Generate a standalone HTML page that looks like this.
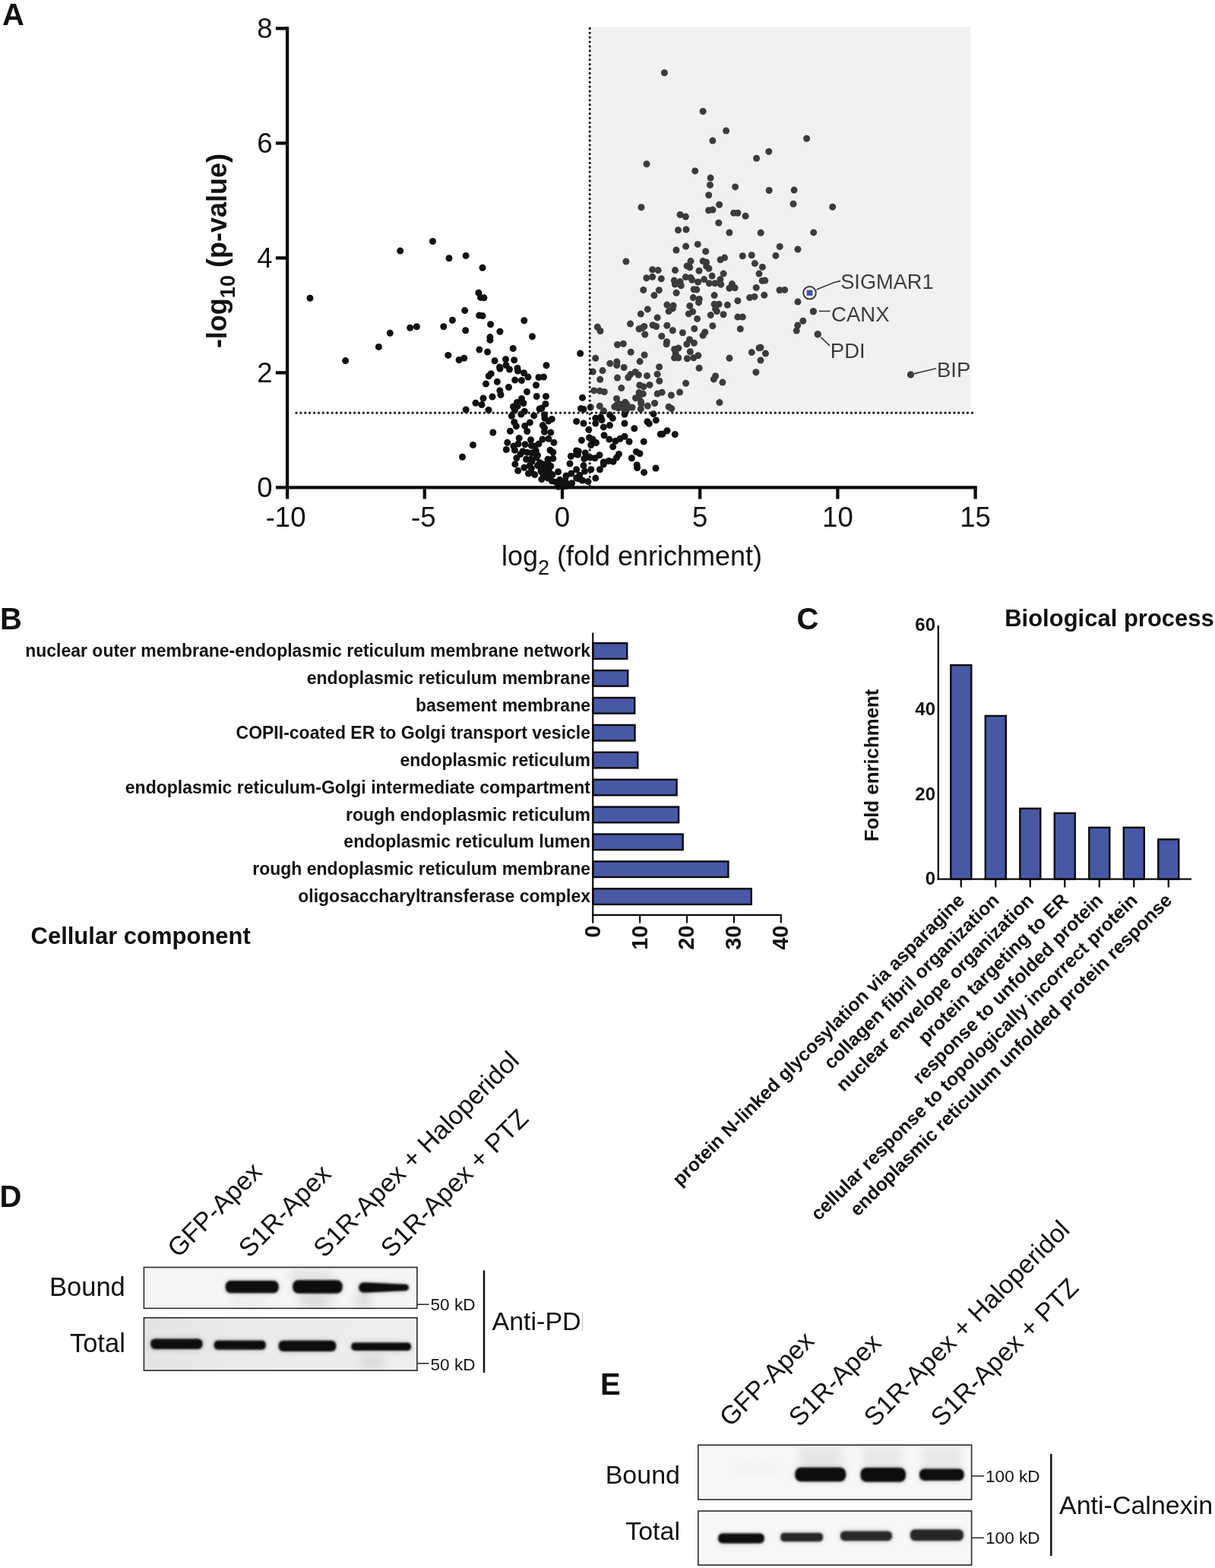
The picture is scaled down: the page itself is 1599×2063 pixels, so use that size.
<!DOCTYPE html>
<html><head><meta charset="utf-8"><title>Figure</title>
<style>html,body{margin:0;padding:0;background:#fff;} svg{display:block;}</style>
</head><body>
<svg width="1599" height="2063" viewBox="0 0 1599 2063" font-family="'Liberation Sans', Arial, Helvetica, sans-serif">
<rect x="0" y="0" width="1599" height="2063" fill="#fff"/>
<defs><filter id="soft" x="-20%" y="-100%" width="140%" height="300%"><feGaussianBlur stdDeviation="0.9"/></filter><filter id="halo" x="-30%" y="-200%" width="160%" height="500%"><feGaussianBlur stdDeviation="3.5"/></filter><filter id="smudge" x="-50%" y="-50%" width="200%" height="200%"><feGaussianBlur stdDeviation="6"/></filter><linearGradient id="gTotD" x1="0" y1="0" x2="1" y2="0"><stop offset="0" stop-color="#e4e4e4"/><stop offset="0.45" stop-color="#ececec"/><stop offset="1" stop-color="#eeeeee"/></linearGradient><clipPath id="cDb"><rect x="189.4" y="1667.4" width="359.5" height="54"/></clipPath><clipPath id="cDt"><rect x="189.4" y="1733.8" width="359.5" height="69.4"/></clipPath><clipPath id="cEb"><rect x="918.8" y="1901.2" width="359.8" height="71.8"/></clipPath></defs>
<text x="3" y="33" font-size="40" font-weight="bold" fill="#111">A</text>
<g fill="#111"><circle cx="569.5" cy="317.5" r="4.5"/><circle cx="526.7" cy="330.1" r="4.5"/><circle cx="591.0" cy="339.7" r="4.5"/><circle cx="613.1" cy="336.4" r="4.5"/><circle cx="635.0" cy="352.2" r="4.5"/><circle cx="408.0" cy="392.3" r="4.5"/><circle cx="629.9" cy="385.3" r="4.5"/><circle cx="632.5" cy="391.4" r="4.5"/><circle cx="636.9" cy="391.8" r="4.5"/><circle cx="611.7" cy="408.6" r="4.5"/><circle cx="630.7" cy="415.0" r="4.5"/><circle cx="635.1" cy="415.6" r="4.5"/><circle cx="595.4" cy="421.3" r="4.5"/><circle cx="645.6" cy="426.8" r="4.5"/><circle cx="583.8" cy="429.7" r="4.5"/><circle cx="548.4" cy="429.7" r="4.5"/><circle cx="539.7" cy="431.3" r="4.5"/><circle cx="513.3" cy="438.2" r="4.5"/><circle cx="612.7" cy="434.7" r="4.5"/><circle cx="657.9" cy="436.2" r="4.5"/><circle cx="644.9" cy="443.6" r="4.5"/><circle cx="644.9" cy="447.4" r="4.5"/><circle cx="498.4" cy="456.4" r="4.5"/><circle cx="630.9" cy="460.0" r="4.5"/><circle cx="641.6" cy="463.0" r="4.5"/><circle cx="589.8" cy="467.4" r="4.5"/><circle cx="610.8" cy="471.2" r="4.5"/><circle cx="604.1" cy="473.5" r="4.5"/><circle cx="454.6" cy="474.6" r="4.5"/><circle cx="651.1" cy="474.8" r="4.5"/><circle cx="657.5" cy="483.0" r="4.5"/><circle cx="646.2" cy="491.7" r="4.5"/><circle cx="643.2" cy="494.7" r="4.5"/><circle cx="874.4" cy="95.8" r="4.5"/><circle cx="925.1" cy="146.5" r="4.5"/><circle cx="955.6" cy="172.1" r="4.5"/><circle cx="937.9" cy="185.1" r="4.5"/><circle cx="1011.8" cy="199.4" r="4.5"/><circle cx="995.6" cy="208.2" r="4.5"/><circle cx="851.0" cy="215.7" r="4.5"/><circle cx="914.7" cy="224.9" r="4.5"/><circle cx="935.1" cy="234.1" r="4.5"/><circle cx="934.5" cy="243.4" r="4.5"/><circle cx="967.6" cy="245.9" r="4.5"/><circle cx="1012.2" cy="250.5" r="4.5"/><circle cx="1061.6" cy="182.2" r="4.5"/><circle cx="1045.1" cy="250.1" r="4.5"/><circle cx="1044.0" cy="268.2" r="4.5"/><circle cx="1095.7" cy="272.2" r="4.5"/><circle cx="932.7" cy="256.8" r="4.5"/><circle cx="844.0" cy="272.7" r="4.5"/><circle cx="946.6" cy="269.3" r="4.5"/><circle cx="932.6" cy="276.8" r="4.5"/><circle cx="937.9" cy="276.0" r="4.5"/><circle cx="895.1" cy="282.5" r="4.5"/><circle cx="902.3" cy="285.0" r="4.5"/><circle cx="965.6" cy="280.2" r="4.5"/><circle cx="970.9" cy="280.2" r="4.5"/><circle cx="981.1" cy="284.3" r="4.5"/><circle cx="945.8" cy="293.3" r="4.5"/><circle cx="892.5" cy="302.7" r="4.5"/><circle cx="903.0" cy="302.0" r="4.5"/><circle cx="959.9" cy="306.0" r="4.5"/><circle cx="1001.2" cy="306.3" r="4.5"/><circle cx="918.3" cy="321.4" r="4.5"/><circle cx="902.6" cy="324.1" r="4.5"/><circle cx="890.0" cy="329.0" r="4.5"/><circle cx="928.7" cy="330.8" r="4.5"/><circle cx="977.3" cy="336.8" r="4.5"/><circle cx="989.2" cy="335.8" r="4.5"/><circle cx="953.6" cy="339.1" r="4.5"/><circle cx="948.1" cy="341.8" r="4.5"/><circle cx="823.9" cy="344.0" r="4.5"/><circle cx="909.0" cy="343.6" r="4.5"/><circle cx="925.1" cy="343.6" r="4.5"/><circle cx="929.6" cy="345.1" r="4.5"/><circle cx="993.4" cy="346.6" r="4.5"/><circle cx="1003.4" cy="351.4" r="4.5"/><circle cx="904.1" cy="349.9" r="4.5"/><circle cx="907.8" cy="351.8" r="4.5"/><circle cx="929.6" cy="350.3" r="4.5"/><circle cx="932.9" cy="353.3" r="4.5"/><circle cx="858.6" cy="354.8" r="4.5"/><circle cx="866.1" cy="355.6" r="4.5"/><circle cx="888.5" cy="355.6" r="4.5"/><circle cx="920.0" cy="356.3" r="4.5"/><circle cx="952.1" cy="360.1" r="4.5"/><circle cx="999.0" cy="360.1" r="4.5"/><circle cx="937.1" cy="363.1" r="4.5"/><circle cx="858.6" cy="364.3" r="4.5"/><circle cx="850.8" cy="365.8" r="4.5"/><circle cx="870.3" cy="366.8" r="4.5"/><circle cx="902.3" cy="364.6" r="4.5"/><circle cx="909.0" cy="365.3" r="4.5"/><circle cx="910.8" cy="368.3" r="4.5"/><circle cx="926.6" cy="367.6" r="4.5"/><circle cx="947.9" cy="367.6" r="4.5"/><circle cx="887.3" cy="369.1" r="4.5"/><circle cx="895.1" cy="370.6" r="4.5"/><circle cx="918.6" cy="371.0" r="4.5"/><circle cx="1003.1" cy="369.4" r="4.5"/><circle cx="1006.9" cy="369.1" r="4.5"/><circle cx="933.3" cy="372.8" r="4.5"/><circle cx="940.9" cy="372.8" r="4.5"/><circle cx="948.7" cy="374.3" r="4.5"/><circle cx="888.3" cy="374.0" r="4.5"/><circle cx="896.3" cy="375.8" r="4.5"/><circle cx="963.4" cy="373.6" r="4.5"/><circle cx="959.9" cy="379.3" r="4.5"/><circle cx="967.1" cy="378.8" r="4.5"/><circle cx="995.2" cy="378.4" r="4.5"/><circle cx="846.7" cy="381.5" r="4.5"/><circle cx="867.3" cy="381.8" r="4.5"/><circle cx="913.1" cy="380.8" r="4.5"/><circle cx="916.8" cy="381.1" r="4.5"/><circle cx="890.1" cy="385.3" r="4.5"/><circle cx="860.9" cy="388.6" r="4.5"/><circle cx="940.1" cy="388.6" r="4.5"/><circle cx="1005.8" cy="388.3" r="4.5"/><circle cx="986.6" cy="391.6" r="4.5"/><circle cx="992.9" cy="390.4" r="4.5"/><circle cx="912.3" cy="391.6" r="4.5"/><circle cx="920.3" cy="393.4" r="4.5"/><circle cx="919.5" cy="397.9" r="4.5"/><circle cx="970.9" cy="395.8" r="4.5"/><circle cx="877.8" cy="401.1" r="4.5"/><circle cx="886.1" cy="402.1" r="4.5"/><circle cx="907.8" cy="402.4" r="4.5"/><circle cx="940.1" cy="400.3" r="4.5"/><circle cx="946.1" cy="400.3" r="4.5"/><circle cx="957.4" cy="401.3" r="4.5"/><circle cx="852.3" cy="406.9" r="4.5"/><circle cx="885.3" cy="405.9" r="4.5"/><circle cx="880.1" cy="409.6" r="4.5"/><circle cx="941.6" cy="406.6" r="4.5"/><circle cx="943.4" cy="409.6" r="4.5"/><circle cx="843.3" cy="413.1" r="4.5"/><circle cx="911.6" cy="410.1" r="4.5"/><circle cx="906.3" cy="412.9" r="4.5"/><circle cx="935.3" cy="414.6" r="4.5"/><circle cx="952.1" cy="413.8" r="4.5"/><circle cx="865.1" cy="417.9" r="4.5"/><circle cx="970.9" cy="417.1" r="4.5"/><circle cx="977.3" cy="417.1" r="4.5"/><circle cx="917.6" cy="419.4" r="4.5"/><circle cx="1070.7" cy="305.9" r="4.5"/><circle cx="1026.2" cy="324.4" r="4.5"/><circle cx="1050.0" cy="328.0" r="4.5"/><circle cx="1020.9" cy="336.4" r="4.5"/><circle cx="1026.0" cy="381.8" r="4.5"/><circle cx="1032.7" cy="381.4" r="4.5"/><circle cx="1050.0" cy="397.1" r="4.5"/><circle cx="1070.3" cy="409.7" r="4.5"/><circle cx="1056.8" cy="422.3" r="4.5"/><circle cx="1049.7" cy="428.0" r="4.5"/><circle cx="1048.2" cy="435.1" r="4.5"/><circle cx="1076.2" cy="439.8" r="4.5"/><circle cx="1001.0" cy="457.2" r="4.5"/><circle cx="1007.5" cy="465.1" r="4.5"/><circle cx="1001.0" cy="474.1" r="4.5"/><circle cx="1198.5" cy="492.9" r="4.5"/><circle cx="829.5" cy="426.1" r="4.5"/><circle cx="786.3" cy="430.3" r="4.5"/><circle cx="790.0" cy="435.5" r="4.5"/><circle cx="841.0" cy="432.8" r="4.5"/><circle cx="847.8" cy="429.5" r="4.5"/><circle cx="844.8" cy="431.8" r="4.5"/><circle cx="859.1" cy="427.7" r="4.5"/><circle cx="863.6" cy="429.5" r="4.5"/><circle cx="877.8" cy="428.3" r="4.5"/><circle cx="885.3" cy="434.8" r="4.5"/><circle cx="898.4" cy="437.8" r="4.5"/><circle cx="913.8" cy="432.5" r="4.5"/><circle cx="937.9" cy="428.8" r="4.5"/><circle cx="974.3" cy="432.8" r="4.5"/><circle cx="927.8" cy="437.0" r="4.5"/><circle cx="925.1" cy="441.2" r="4.5"/><circle cx="848.8" cy="440.0" r="4.5"/><circle cx="870.8" cy="442.3" r="4.5"/><circle cx="877.5" cy="449.8" r="4.5"/><circle cx="877.1" cy="452.8" r="4.5"/><circle cx="812.5" cy="453.5" r="4.5"/><circle cx="820.3" cy="452.3" r="4.5"/><circle cx="907.5" cy="446.8" r="4.5"/><circle cx="903.8" cy="452.8" r="4.5"/><circle cx="913.4" cy="451.3" r="4.5"/><circle cx="887.6" cy="459.5" r="4.5"/><circle cx="892.8" cy="458.0" r="4.5"/><circle cx="889.1" cy="464.8" r="4.5"/><circle cx="890.6" cy="469.3" r="4.5"/><circle cx="887.6" cy="470.8" r="4.5"/><circle cx="892.8" cy="470.8" r="4.5"/><circle cx="908.3" cy="462.8" r="4.5"/><circle cx="918.8" cy="467.8" r="4.5"/><circle cx="912.8" cy="470.8" r="4.5"/><circle cx="904.4" cy="471.8" r="4.5"/><circle cx="959.9" cy="471.2" r="4.5"/><circle cx="999.0" cy="457.7" r="4.5"/><circle cx="989.3" cy="463.6" r="4.5"/><circle cx="994.9" cy="489.8" r="4.5"/><circle cx="830.2" cy="463.3" r="4.5"/><circle cx="848.1" cy="467.0" r="4.5"/><circle cx="783.7" cy="471.2" r="4.5"/><circle cx="842.1" cy="475.6" r="4.5"/><circle cx="802.8" cy="478.3" r="4.5"/><circle cx="811.8" cy="476.0" r="4.5"/><circle cx="811.8" cy="480.5" r="4.5"/><circle cx="821.2" cy="483.5" r="4.5"/><circle cx="867.6" cy="482.8" r="4.5"/><circle cx="920.1" cy="484.3" r="4.5"/><circle cx="780.3" cy="489.1" r="4.5"/><circle cx="793.0" cy="487.6" r="4.5"/><circle cx="836.2" cy="489.5" r="4.5"/><circle cx="840.3" cy="493.3" r="4.5"/><circle cx="829.8" cy="492.6" r="4.5"/><circle cx="826.8" cy="496.8" r="4.5"/><circle cx="851.5" cy="494.4" r="4.5"/><circle cx="865.1" cy="492.3" r="4.5"/><circle cx="812.5" cy="497.1" r="4.5"/><circle cx="789.7" cy="499.3" r="4.5"/><circle cx="867.8" cy="501.3" r="4.5"/><circle cx="941.6" cy="494.8" r="4.5"/><circle cx="939.4" cy="498.9" r="4.5"/><circle cx="950.9" cy="503.1" r="4.5"/><circle cx="902.6" cy="504.3" r="4.5"/><circle cx="841.8" cy="506.8" r="4.5"/><circle cx="847.0" cy="508.8" r="4.5"/><circle cx="855.0" cy="506.4" r="4.5"/><circle cx="817.8" cy="510.6" r="4.5"/><circle cx="781.8" cy="513.9" r="4.5"/><circle cx="789.3" cy="514.3" r="4.5"/><circle cx="795.3" cy="515.5" r="4.5"/><circle cx="841.0" cy="516.6" r="4.5"/><circle cx="846.3" cy="518.1" r="4.5"/><circle cx="865.1" cy="518.1" r="4.5"/><circle cx="871.1" cy="516.3" r="4.5"/><circle cx="883.4" cy="520.0" r="4.5"/><circle cx="894.6" cy="516.1" r="4.5"/><circle cx="836.5" cy="523.8" r="4.5"/><circle cx="841.0" cy="522.3" r="4.5"/><circle cx="811.5" cy="524.4" r="4.5"/><circle cx="843.7" cy="528.6" r="4.5"/><circle cx="861.6" cy="530.5" r="4.5"/><circle cx="946.9" cy="529.6" r="4.5"/><circle cx="822.7" cy="529.3" r="4.5"/><circle cx="789.3" cy="534.3" r="4.5"/><circle cx="777.3" cy="535.8" r="4.5"/><circle cx="808.8" cy="535.3" r="4.5"/><circle cx="814.8" cy="531.6" r="4.5"/><circle cx="824.5" cy="539.1" r="4.5"/><circle cx="832.0" cy="536.1" r="4.5"/><circle cx="843.3" cy="538.3" r="4.5"/><circle cx="852.3" cy="534.1" r="4.5"/><circle cx="880.1" cy="535.3" r="4.5"/><circle cx="883.8" cy="537.6" r="4.5"/><circle cx="794.5" cy="540.6" r="4.5"/><circle cx="689.8" cy="421.8" r="4.5"/><circle cx="700.5" cy="442.8" r="4.5"/><circle cx="675.2" cy="458.5" r="4.5"/><circle cx="763.7" cy="465.0" r="4.5"/><circle cx="665.5" cy="472.8" r="4.5"/><circle cx="676.7" cy="473.8" r="4.5"/><circle cx="719.0" cy="480.7" r="4.5"/><circle cx="658.0" cy="485.0" r="4.5"/><circle cx="666.0" cy="480.5" r="4.5"/><circle cx="670.5" cy="486.0" r="4.5"/><circle cx="681.0" cy="484.5" r="4.5"/><circle cx="681.5" cy="488.0" r="4.5"/><circle cx="689.5" cy="490.8" r="4.5"/><circle cx="695.0" cy="496.0" r="4.5"/><circle cx="709.0" cy="496.5" r="4.5"/><circle cx="715.5" cy="496.0" r="4.5"/><circle cx="639.5" cy="505.0" r="4.5"/><circle cx="654.3" cy="502.2" r="4.5"/><circle cx="677.7" cy="500.0" r="4.5"/><circle cx="686.5" cy="500.5" r="4.5"/><circle cx="705.5" cy="506.8" r="4.5"/><circle cx="669.5" cy="509.5" r="4.5"/><circle cx="657.8" cy="514.0" r="4.5"/><circle cx="659.0" cy="519.5" r="4.5"/><circle cx="693.5" cy="515.5" r="4.5"/><circle cx="636.0" cy="524.0" r="4.5"/><circle cx="648.0" cy="522.0" r="4.5"/><circle cx="706.2" cy="521.5" r="4.5"/><circle cx="718.5" cy="521.5" r="4.5"/><circle cx="766.5" cy="523.2" r="4.5"/><circle cx="686.5" cy="524.5" r="4.5"/><circle cx="689.0" cy="530.5" r="4.5"/><circle cx="680.5" cy="529.5" r="4.5"/><circle cx="675.5" cy="535.0" r="4.5"/><circle cx="681.0" cy="534.5" r="4.5"/><circle cx="634.0" cy="532.5" r="4.5"/><circle cx="718.0" cy="531.5" r="4.5"/><circle cx="710.0" cy="538.0" r="4.5"/><circle cx="713.0" cy="537.0" r="4.5"/><circle cx="643.0" cy="539.5" r="4.5"/><circle cx="764.5" cy="537.5" r="4.5"/><circle cx="768.0" cy="538.5" r="4.5"/><circle cx="626.0" cy="530.3" r="4.5"/><circle cx="613.2" cy="539.0" r="4.5"/><circle cx="648.8" cy="569.0" r="4.5"/><circle cx="622.5" cy="585.4" r="4.5"/><circle cx="608.5" cy="601.3" r="4.5"/><circle cx="677.5" cy="539.8" r="4.5"/><circle cx="673.4" cy="547.3" r="4.5"/><circle cx="690.3" cy="541.3" r="4.5"/><circle cx="685.8" cy="545.0" r="4.5"/><circle cx="702.7" cy="546.9" r="4.5"/><circle cx="716.5" cy="545.8" r="4.5"/><circle cx="716.9" cy="550.3" r="4.5"/><circle cx="726.3" cy="551.4" r="4.5"/><circle cx="721.8" cy="554.0" r="4.5"/><circle cx="676.8" cy="555.5" r="4.5"/><circle cx="679.4" cy="560.8" r="4.5"/><circle cx="697.4" cy="555.9" r="4.5"/><circle cx="690.7" cy="560.4" r="4.5"/><circle cx="693.7" cy="567.5" r="4.5"/><circle cx="671.4" cy="567.3" r="4.5"/><circle cx="714.3" cy="559.6" r="4.5"/><circle cx="716.5" cy="563.0" r="4.5"/><circle cx="716.5" cy="568.3" r="4.5"/><circle cx="724.8" cy="569.0" r="4.5"/><circle cx="758.6" cy="554.4" r="4.5"/><circle cx="683.2" cy="576.5" r="4.5"/><circle cx="698.5" cy="578.8" r="4.5"/><circle cx="667.8" cy="582.2" r="4.5"/><circle cx="721.8" cy="577.3" r="4.5"/><circle cx="713.9" cy="578.0" r="4.5"/><circle cx="709.0" cy="584.0" r="4.5"/><circle cx="728.9" cy="582.2" r="4.5"/><circle cx="676.0" cy="587.0" r="4.5"/><circle cx="682.0" cy="584.0" r="4.5"/><circle cx="691.0" cy="584.8" r="4.5"/><circle cx="699.3" cy="586.3" r="4.5"/><circle cx="703.8" cy="587.0" r="4.5"/><circle cx="666.3" cy="591.5" r="4.5"/><circle cx="677.5" cy="592.3" r="4.5"/><circle cx="688.0" cy="593.8" r="4.5"/><circle cx="694.0" cy="595.3" r="4.5"/><circle cx="700.0" cy="596.0" r="4.5"/><circle cx="705.3" cy="593.0" r="4.5"/><circle cx="724.0" cy="592.3" r="4.5"/><circle cx="727.8" cy="595.0" r="4.5"/><circle cx="758.6" cy="593.0" r="4.5"/><circle cx="758.6" cy="597.5" r="4.5"/><circle cx="679.8" cy="602.8" r="4.5"/><circle cx="685.0" cy="597.5" r="4.5"/><circle cx="692.5" cy="604.3" r="4.5"/><circle cx="698.5" cy="604.3" r="4.5"/><circle cx="706.0" cy="602.0" r="4.5"/><circle cx="707.5" cy="599.0" r="4.5"/><circle cx="721.0" cy="604.3" r="4.5"/><circle cx="727.8" cy="603.2" r="4.5"/><circle cx="751.4" cy="600.2" r="4.5"/><circle cx="677.9" cy="610.7" r="4.5"/><circle cx="700.0" cy="607.3" r="4.5"/><circle cx="710.5" cy="608.8" r="4.5"/><circle cx="715.0" cy="611.0" r="4.5"/><circle cx="721.0" cy="608.8" r="4.5"/><circle cx="724.8" cy="613.3" r="4.5"/><circle cx="750.0" cy="610.0" r="4.5"/><circle cx="689.9" cy="615.2" r="4.5"/><circle cx="697.0" cy="612.6" r="4.5"/><circle cx="699.3" cy="616.3" r="4.5"/><circle cx="707.5" cy="612.6" r="4.5"/><circle cx="712.0" cy="616.3" r="4.5"/><circle cx="717.3" cy="614.8" r="4.5"/><circle cx="681.7" cy="619.3" r="4.5"/><circle cx="758.6" cy="617.8" r="4.5"/><circle cx="695.5" cy="623.0" r="4.5"/><circle cx="703.8" cy="624.6" r="4.5"/><circle cx="699.3" cy="621.6" r="4.5"/><circle cx="712.0" cy="620.0" r="4.5"/><circle cx="715.0" cy="624.6" r="4.5"/><circle cx="718.8" cy="623.0" r="4.5"/><circle cx="722.5" cy="620.0" r="4.5"/><circle cx="727.0" cy="624.6" r="4.5"/><circle cx="734.6" cy="620.8" r="4.5"/><circle cx="712.8" cy="630.6" r="4.5"/><circle cx="721.0" cy="629.0" r="4.5"/><circle cx="745.0" cy="626.0" r="4.5"/><circle cx="751.8" cy="623.0" r="4.5"/><circle cx="758.6" cy="629.0" r="4.5"/><circle cx="726.3" cy="632.8" r="4.5"/><circle cx="731.6" cy="634.3" r="4.5"/><circle cx="736.8" cy="631.3" r="4.5"/><circle cx="739.8" cy="635.1" r="4.5"/><circle cx="743.6" cy="632.1" r="4.5"/><circle cx="746.6" cy="636.6" r="4.5"/><circle cx="752.6" cy="635.8" r="4.5"/><circle cx="734.6" cy="640.3" r="4.5"/><circle cx="740.6" cy="640.3" r="4.5"/><circle cx="745.0" cy="639.6" r="4.5"/><circle cx="768.0" cy="557.0" r="4.5"/><circle cx="774.8" cy="565.3" r="4.5"/><circle cx="783.8" cy="550.3" r="4.5"/><circle cx="790.5" cy="548.8" r="4.5"/><circle cx="792.0" cy="552.5" r="4.5"/><circle cx="783.8" cy="557.0" r="4.5"/><circle cx="802.5" cy="545.8" r="4.5"/><circle cx="806.3" cy="550.3" r="4.5"/><circle cx="794.3" cy="561.9" r="4.5"/><circle cx="802.5" cy="559.6" r="4.5"/><circle cx="822.0" cy="545.0" r="4.5"/><circle cx="822.0" cy="557.0" r="4.5"/><circle cx="834.8" cy="563.8" r="4.5"/><circle cx="852.0" cy="554.8" r="4.5"/><circle cx="854.3" cy="557.4" r="4.5"/><circle cx="863.3" cy="552.9" r="4.5"/><circle cx="860.0" cy="544.6" r="4.5"/><circle cx="869.3" cy="571.3" r="4.5"/><circle cx="765.4" cy="579.2" r="4.5"/><circle cx="775.5" cy="575.8" r="4.5"/><circle cx="780.0" cy="578.0" r="4.5"/><circle cx="784.5" cy="582.5" r="4.5"/><circle cx="777.8" cy="585.5" r="4.5"/><circle cx="795.0" cy="572.8" r="4.5"/><circle cx="801.8" cy="578.0" r="4.5"/><circle cx="810.0" cy="580.3" r="4.5"/><circle cx="816.0" cy="577.3" r="4.5"/><circle cx="822.0" cy="574.3" r="4.5"/><circle cx="828.0" cy="581.0" r="4.5"/><circle cx="806.7" cy="587.8" r="4.5"/><circle cx="847.2" cy="581.0" r="4.5"/><circle cx="761.3" cy="593.8" r="4.5"/><circle cx="760.5" cy="598.3" r="4.5"/><circle cx="770.3" cy="596.0" r="4.5"/><circle cx="772.5" cy="601.3" r="4.5"/><circle cx="768.8" cy="603.5" r="4.5"/><circle cx="777.0" cy="602.0" r="4.5"/><circle cx="783.0" cy="602.8" r="4.5"/><circle cx="789.0" cy="598.7" r="4.5"/><circle cx="814.5" cy="597.5" r="4.5"/><circle cx="811.5" cy="602.0" r="4.5"/><circle cx="807.0" cy="607.3" r="4.5"/><circle cx="801.0" cy="606.5" r="4.5"/><circle cx="794.3" cy="608.0" r="4.5"/><circle cx="794.3" cy="611.0" r="4.5"/><circle cx="837.4" cy="594.5" r="4.5"/><circle cx="842.0" cy="596.8" r="4.5"/><circle cx="831.4" cy="602.8" r="4.5"/><circle cx="838.2" cy="611.8" r="4.5"/><circle cx="838.6" cy="615.6" r="4.5"/><circle cx="863.0" cy="616.0" r="4.5"/><circle cx="847.6" cy="621.6" r="4.5"/><circle cx="789.4" cy="617.8" r="4.5"/><circle cx="768.0" cy="612.6" r="4.5"/><circle cx="769.5" cy="620.0" r="4.5"/><circle cx="777.8" cy="617.8" r="4.5"/><circle cx="762.8" cy="625.3" r="4.5"/><circle cx="761.3" cy="629.8" r="4.5"/><circle cx="766.5" cy="632.0" r="4.5"/><circle cx="774.0" cy="633.6" r="4.5"/><circle cx="783.8" cy="629.1" r="4.5"/><circle cx="813.8" cy="536.8" r="4.5"/><circle cx="811.5" cy="533.0" r="4.5"/><circle cx="817.5" cy="532.3" r="4.5"/><circle cx="822.0" cy="531.5" r="4.5"/><circle cx="825.0" cy="532.3" r="4.5"/><circle cx="821.3" cy="538.3" r="4.5"/><circle cx="843.8" cy="531.5" r="4.5"/><circle cx="872.0" cy="571.0" r="4.5"/><circle cx="878.0" cy="566.8" r="4.5"/><circle cx="888.3" cy="571.5" r="4.5"/></g>
<g fill="#111" stroke="none">
<circle cx="1070.4" cy="409.8" r="4.5"/><circle cx="1076.2" cy="439.8" r="4.5"/><circle cx="1198.5" cy="492.9" r="4.5"/>
</g>
<g stroke="#111" stroke-width="1.6" fill="none">
<circle cx="1065.5" cy="385.3" r="8.3" fill="#fff" stroke-width="2"/>
<polyline points="1074.6,381.0 1098,371.5 1106,369.6"/>
<line x1="1077.7" y1="409.4" x2="1092.5" y2="409.4"/>
<line x1="1080.5" y1="443.8" x2="1092" y2="454.8"/>
<line x1="1203" y1="491.6" x2="1232" y2="484.8"/>
</g>
<rect x="1061.6" y="381.6" width="7.8" height="7.4" fill="rgb(33,54,154)"/>
<g font-size="28.4" fill="#111"><text transform="translate(1106.2,379.8) scale(0.958,1)">SIGMAR1</text><text transform="translate(1094,422.8) scale(0.97,1)">CANX</text><text transform="translate(1092.8,470.8) scale(0.97,1)">PDI</text><text transform="translate(1233,496.2) scale(0.97,1)">BIP</text></g>
<rect x="778.5" y="35.2" width="498.6" height="507.8" fill="rgb(196,196,208)" fill-opacity="0.235"/>
<line x1="776.25" y1="37.4" x2="776.25" y2="641" stroke="#1c1c1c" stroke-width="3.3" stroke-linecap="round" stroke-dasharray="0 5.9"/>
<line x1="390.0" y1="543.2" x2="1282" y2="543.2" stroke="#1c1c1c" stroke-width="3.3" stroke-linecap="round" stroke-dasharray="0 5.89"/>
<g stroke="#0b0b0b" stroke-width="4.3" fill="none" stroke-linecap="butt">
<line x1="378.1" y1="35.2" x2="378.1" y2="656.5"/>
<line x1="362.9" y1="641.4" x2="1285.8" y2="641.4"/>
<line x1="362.9" y1="490.40" x2="378.1" y2="490.40"/>
<line x1="362.9" y1="339.40" x2="378.1" y2="339.40"/>
<line x1="362.9" y1="188.40" x2="378.1" y2="188.40"/>
<line x1="362.9" y1="37.40" x2="378.1" y2="37.40"/>
<line x1="558.80" y1="641.4" x2="558.80" y2="656.5"/>
<line x1="740.00" y1="641.4" x2="740.00" y2="656.5"/>
<line x1="921.20" y1="641.4" x2="921.20" y2="656.5"/>
<line x1="1102.40" y1="641.4" x2="1102.40" y2="656.5"/>
<line x1="1283.60" y1="641.4" x2="1283.60" y2="656.5"/>
</g>
<g font-size="36.6" fill="#111" text-anchor="end">
<text x="358.6" y="653.5">0</text>
<text x="358.6" y="502.5">2</text>
<text x="358.6" y="351.5">4</text>
<text x="358.6" y="200.5">6</text>
<text x="358.6" y="49.5">8</text>
</g><g font-size="36.6" fill="#111" text-anchor="middle">
<text x="376.1" y="692.6">-10</text>
<text x="557.3" y="692.6">-5</text>
<text x="740.0" y="692.6">0</text>
<text x="921.2" y="692.6">5</text>
<text x="1102.4" y="692.6">10</text>
<text x="1283.6" y="692.6">15</text>
</g>
<text x="831.5" y="743.9" font-size="36" fill="#111" text-anchor="middle">log<tspan font-size="27" dy="11.6">2</tspan><tspan dy="-11.6"> (fold enrichment)</tspan></text>
<text transform="translate(297.5,330.1) rotate(-90)" font-size="36" font-weight="bold" fill="#111" text-anchor="middle">-log<tspan font-size="27" dy="11.6">10</tspan><tspan dy="-11.6"> (p-value)</tspan></text>
<text x="0" y="828" font-size="40" font-weight="bold" fill="#111">B</text>
<g fill="#4858a5" stroke="#0b0b0b" stroke-width="2.4">
<rect x="780.25" y="846.20" width="44.95" height="20.60"/>
<rect x="780.25" y="882.10" width="45.95" height="20.60"/>
<rect x="780.25" y="918.00" width="54.95" height="20.60"/>
<rect x="780.25" y="953.90" width="55.25" height="20.60"/>
<rect x="780.25" y="989.80" width="59.05" height="20.60"/>
<rect x="780.25" y="1025.70" width="110.35" height="20.60"/>
<rect x="780.25" y="1061.60" width="112.85" height="20.60"/>
<rect x="780.25" y="1097.50" width="118.45" height="20.60"/>
<rect x="780.25" y="1133.40" width="178.15" height="20.60"/>
<rect x="780.25" y="1169.30" width="208.55" height="20.60"/>
</g>
<g font-size="23" font-weight="bold" fill="#111" text-anchor="end">
<text x="777" y="864.1">nuclear outer membrane-endoplasmic reticulum membrane network</text>
<text x="777" y="900.0">endoplasmic reticulum membrane</text>
<text x="777" y="935.9">basement membrane</text>
<text x="777" y="971.8">COPII-coated ER to Golgi transport vesicle</text>
<text x="777" y="1007.7">endoplasmic reticulum</text>
<text x="777" y="1043.6">endoplasmic reticulum-Golgi intermediate compartment</text>
<text x="777" y="1079.5">rough endoplasmic reticulum</text>
<text x="777" y="1115.4">endoplasmic reticulum lumen</text>
<text x="777" y="1151.3">rough endoplasmic reticulum membrane</text>
<text x="777" y="1187.2">oligosaccharyltransferase complex</text>
</g>
<g stroke="#0b0b0b" stroke-width="2.2" fill="none">
<line x1="780.25" y1="832.5" x2="780.25" y2="1214.4"/>
<line x1="779.2" y1="1203.9" x2="1028.9" y2="1203.9"/>
<line x1="842.13" y1="1203.9" x2="842.13" y2="1214.4"/>
<line x1="904.01" y1="1203.9" x2="904.01" y2="1214.4"/>
<line x1="965.89" y1="1203.9" x2="965.89" y2="1214.4"/>
<line x1="1027.77" y1="1203.9" x2="1027.77" y2="1214.4"/>
</g>
<g font-size="29" font-weight="bold" fill="#111" text-anchor="end">
<text transform="translate(789.65,1217.6) rotate(-90)">0</text>
<text transform="translate(851.53,1217.6) rotate(-90)">10</text>
<text transform="translate(913.41,1217.6) rotate(-90)">20</text>
<text transform="translate(975.29,1217.6) rotate(-90)">30</text>
<text transform="translate(1037.17,1217.6) rotate(-90)">40</text>
</g>
<text x="40.5" y="1241.5" font-size="31" font-weight="bold" fill="#111">Cellular component</text>
<text x="1048.5" y="828" font-size="40" font-weight="bold" fill="#111">C</text>
<text x="1322.2" y="824.4" font-size="31" font-weight="bold" fill="#111">Biological process</text>
<g fill="#4858a5" stroke="#0b0b0b" stroke-width="2.4">
<rect x="1251.30" y="875.10" width="27.00" height="281.50"/>
<rect x="1296.80" y="941.88" width="27.00" height="214.72"/>
<rect x="1342.30" y="1063.75" width="27.00" height="92.85"/>
<rect x="1387.80" y="1069.87" width="27.00" height="86.73"/>
<rect x="1433.30" y="1088.79" width="27.00" height="67.81"/>
<rect x="1478.80" y="1088.79" width="27.00" height="67.81"/>
<rect x="1524.30" y="1104.38" width="27.00" height="52.22"/>
</g>
<g stroke="#0b0b0b" stroke-width="2.3" fill="none">
<line x1="1234.8" y1="822.7" x2="1234.8" y2="1157.7"/>
<line x1="1233.7" y1="1156.6" x2="1568" y2="1156.6"/>
<line x1="1264.80" y1="1156.6" x2="1264.80" y2="1167.5"/>
<line x1="1310.30" y1="1156.6" x2="1310.30" y2="1167.5"/>
<line x1="1355.80" y1="1156.6" x2="1355.80" y2="1167.5"/>
<line x1="1401.30" y1="1156.6" x2="1401.30" y2="1167.5"/>
<line x1="1446.80" y1="1156.6" x2="1446.80" y2="1167.5"/>
<line x1="1492.30" y1="1156.6" x2="1492.30" y2="1167.5"/>
<line x1="1537.80" y1="1156.6" x2="1537.80" y2="1167.5"/>
</g>
<g font-size="24" font-weight="bold" fill="#111" text-anchor="end">
<text x="1231" y="1163.9">0</text>
<text x="1231" y="1052.6">20</text>
<text x="1231" y="941.3">40</text>
<text x="1231" y="830.0">60</text>
</g>
<text transform="translate(1155.5,1007) rotate(-90)" font-size="25.8" font-weight="bold" fill="#111" text-anchor="middle">Fold enrichment</text>
<g font-size="24.7" font-weight="bold" fill="#111" text-anchor="end">
<text transform="translate(1270.80,1186) rotate(-45)">protein N-linked glycosylation via asparagine</text>
<text transform="translate(1316.30,1186) rotate(-45)">collagen fibril organization</text>
<text transform="translate(1361.80,1186) rotate(-45)">nuclear envelope organization</text>
<text transform="translate(1407.30,1186) rotate(-45)">protein targeting to ER</text>
<text transform="translate(1452.80,1186) rotate(-45)">response to unfolded protein</text>
<text transform="translate(1498.30,1186) rotate(-45)">cellular response to topologically incorrect protein</text>
<text transform="translate(1543.80,1186) rotate(-45)">endoplasmic reticulum unfolded protein response</text>
</g>
<text x="-0.5" y="1588" font-size="40" font-weight="bold" fill="#111">D</text>
<g font-size="34" fill="#111">
<text transform="translate(234.5,1656) rotate(-45)">GFP-Apex</text>
<text transform="translate(328.0,1656) rotate(-45)">S1R-Apex</text>
<text transform="translate(426.5,1656) rotate(-45)">S1R-Apex + Haloperidol</text>
<text transform="translate(515.0,1656) rotate(-45)">S1R-Apex + PTZ</text>
</g>
<g font-size="34.5" fill="#111" text-anchor="end"><text x="164.8" y="1705">Bound</text><text x="164.8" y="1779">Total</text></g>
<rect x="189.4" y="1667.4" width="359.5" height="54" fill="#f5f5f5"/>
<g clip-path="url(#cDb)"><g filter="url(#smudge)" fill="#000"><ellipse cx="415" cy="1712" rx="22" ry="10" opacity="0.10"/><ellipse cx="410" cy="1676" rx="30" ry="8" opacity="0.07"/><ellipse cx="478" cy="1712" rx="10" ry="12" opacity="0.10"/><ellipse cx="330" cy="1714" rx="25" ry="6" opacity="0.04"/></g></g>
<rect x="189.4" y="1667.4" width="359.5" height="54" fill="none" stroke="#2a2a2a" stroke-width="1.6"/>
<rect x="189.4" y="1733.8" width="359.5" height="69.4" fill="url(#gTotD)"/>
<g clip-path="url(#cDt)"><g filter="url(#smudge)" fill="#000"><ellipse cx="490" cy="1792" rx="18" ry="10" opacity="0.08"/></g></g>
<rect x="189.4" y="1733.8" width="359.5" height="69.4" fill="none" stroke="#2a2a2a" stroke-width="1.6"/>
<rect x="296.8" y="1685.0" width="69.9" height="16.2" rx="6.8" fill="#000" opacity="0.22" filter="url(#halo)"/><rect x="296.8" y="1685.0" width="69.9" height="16.2" rx="6.8" fill="#0d0d0d" filter="url(#soft)"/><rect x="385.2" y="1684.3" width="65.5" height="17.4" rx="7.3" fill="#000" opacity="0.22" filter="url(#halo)"/><rect x="385.2" y="1684.3" width="65.5" height="17.4" rx="7.3" fill="#0d0d0d" filter="url(#soft)"/><path d="M478.8,1687.2 L533.8,1689.8 A4.2,4.2 0 0 1 533.8,1698.2 L478.8,1700.8 A6.8,6.8 0 0 1 478.8,1687.2 Z" fill="#000" opacity="0.22" filter="url(#halo)"/><path d="M478.8,1687.2 L533.8,1689.8 A4.2,4.2 0 0 1 533.8,1698.2 L478.8,1700.8 A6.8,6.8 0 0 1 478.8,1687.2 Z" fill="#0d0d0d" filter="url(#soft)"/>
<rect x="198.2" y="1761.4" width="68.3" height="13.6" rx="5.7" fill="#000" opacity="0.22" filter="url(#halo)"/><rect x="198.2" y="1761.4" width="68.3" height="13.6" rx="5.7" fill="#0d0d0d" filter="url(#soft)"/><rect x="281.7" y="1763.7" width="68.1" height="12.0" rx="5.0" fill="#000" opacity="0.22" filter="url(#halo)"/><rect x="281.7" y="1763.7" width="68.1" height="12.0" rx="5.0" fill="#0d0d0d" filter="url(#soft)"/><rect x="366.7" y="1763.8" width="75.6" height="14.3" rx="6.0" fill="#000" opacity="0.22" filter="url(#halo)"/><rect x="366.7" y="1763.8" width="75.6" height="14.3" rx="6.0" fill="#0d0d0d" filter="url(#soft)"/><rect x="462.3" y="1766.5" width="78.7" height="10.4" rx="4.4" fill="#000" opacity="0.22" filter="url(#halo)"/><rect x="462.3" y="1766.5" width="78.7" height="10.4" rx="4.4" fill="#0d0d0d" filter="url(#soft)"/>
<g stroke="#222" stroke-width="1.5"><line x1="549" y1="1716.2" x2="564.6" y2="1716.2"/><line x1="549" y1="1793.8" x2="564.6" y2="1793.8"/></g>
<g font-size="22.6" fill="#111"><text x="566.5" y="1723.5">50 kD</text><text x="566.5" y="1802.6">50 kD</text></g>
<line x1="637" y1="1671.5" x2="637" y2="1806" stroke="#111" stroke-width="2.5"/>
<svg x="0" y="0" width="766.6" height="2063" overflow="hidden"><text x="647.5" y="1750.3" font-size="34" fill="#111">Anti-PDI</text></svg>
<rect x="766" y="1727" width="1" height="23.5" fill="#c8c8c8"/>
<text x="790" y="1835" font-size="40" font-weight="bold" fill="#111">E</text>
<g font-size="34" fill="#111">
<text transform="translate(961.0,1878.5) rotate(-45)">GFP-Apex</text>
<text transform="translate(1052.0,1878.5) rotate(-45)">S1R-Apex</text>
<text transform="translate(1151.0,1878.5) rotate(-45)">S1R-Apex + Haloperidol</text>
<text transform="translate(1239.0,1878.5) rotate(-45)">S1R-Apex + PTZ</text>
</g>
<g font-size="34" fill="#111" text-anchor="end"><text x="895" y="1952.2">Bound</text><text x="895" y="2026.3">Total</text></g>
<rect x="918.8" y="1901.2" width="359.8" height="71.8" fill="#f7f7f7"/>
<g clip-path="url(#cEb)"><g filter="url(#smudge)" fill="#000"><rect x="1052" y="1903" width="56" height="30" opacity="0.07"/><rect x="1137" y="1903" width="50" height="30" opacity="0.06"/><rect x="1214" y="1903" width="50" height="30" opacity="0.06"/><rect x="970" y="1930" width="50" height="5" opacity="0.05"/></g></g>
<rect x="918.8" y="1901.2" width="359.8" height="71.8" fill="none" stroke="#2a2a2a" stroke-width="1.6"/>
<rect x="918.8" y="1988" width="359.8" height="71.1" fill="#f7f7f7" stroke="#2a2a2a" stroke-width="1.6"/>
<rect x="1046.3" y="1930.8" width="67.0" height="18.4" rx="7.7" fill="#000" opacity="0.22" filter="url(#halo)"/><rect x="1046.3" y="1930.8" width="67.0" height="18.4" rx="7.7" fill="#0d0d0d" filter="url(#soft)"/><rect x="1132.5" y="1931.0" width="59.5" height="18.7" rx="7.9" fill="#000" opacity="0.22" filter="url(#halo)"/><rect x="1132.5" y="1931.0" width="59.5" height="18.7" rx="7.9" fill="#0d0d0d" filter="url(#soft)"/><rect x="1210.0" y="1932.5" width="58.7" height="15.5" rx="6.5" fill="#000" opacity="0.22" filter="url(#halo)"/><rect x="1210.0" y="1932.5" width="58.7" height="15.5" rx="6.5" fill="#0d0d0d" filter="url(#soft)"/>
<rect x="945.2" y="2017.6" width="60.6" height="12.8" rx="5.4" fill="#000" opacity="0.22" filter="url(#halo)"/><rect x="945.2" y="2017.6" width="60.6" height="12.8" rx="5.4" fill="#0d0d0d" filter="url(#soft)"/><rect x="1027.2" y="2016.7" width="55.8" height="11.5" rx="4.8" fill="#000" opacity="0.22" filter="url(#halo)"/><rect x="1027.2" y="2016.7" width="55.8" height="11.5" rx="4.8" fill="#262626" filter="url(#soft)"/><rect x="1106.0" y="2014.4" width="68.0" height="12.8" rx="5.4" fill="#000" opacity="0.22" filter="url(#halo)"/><rect x="1106.0" y="2014.4" width="68.0" height="12.8" rx="5.4" fill="#2a2a2a" filter="url(#soft)"/><rect x="1197.9" y="2012.2" width="70.1" height="15.0" rx="6.3" fill="#000" opacity="0.22" filter="url(#halo)"/><rect x="1197.9" y="2012.2" width="70.1" height="15.0" rx="6.3" fill="#262626" filter="url(#soft)"/>
<g stroke="#222" stroke-width="1.5"><line x1="1278.6" y1="1942" x2="1295" y2="1942"/><line x1="1278.6" y1="2023.3" x2="1295" y2="2023.3"/></g>
<g font-size="22.6" fill="#111"><text x="1297" y="1949.5">100 kD</text><text x="1297" y="2031">100 kD</text></g>
<line x1="1383.3" y1="1913" x2="1383.3" y2="2047" stroke="#111" stroke-width="2.5"/>
<text x="1394" y="1991.9" font-size="34" fill="#111">Anti-Calnexin</text>
</svg>
</body></html>
